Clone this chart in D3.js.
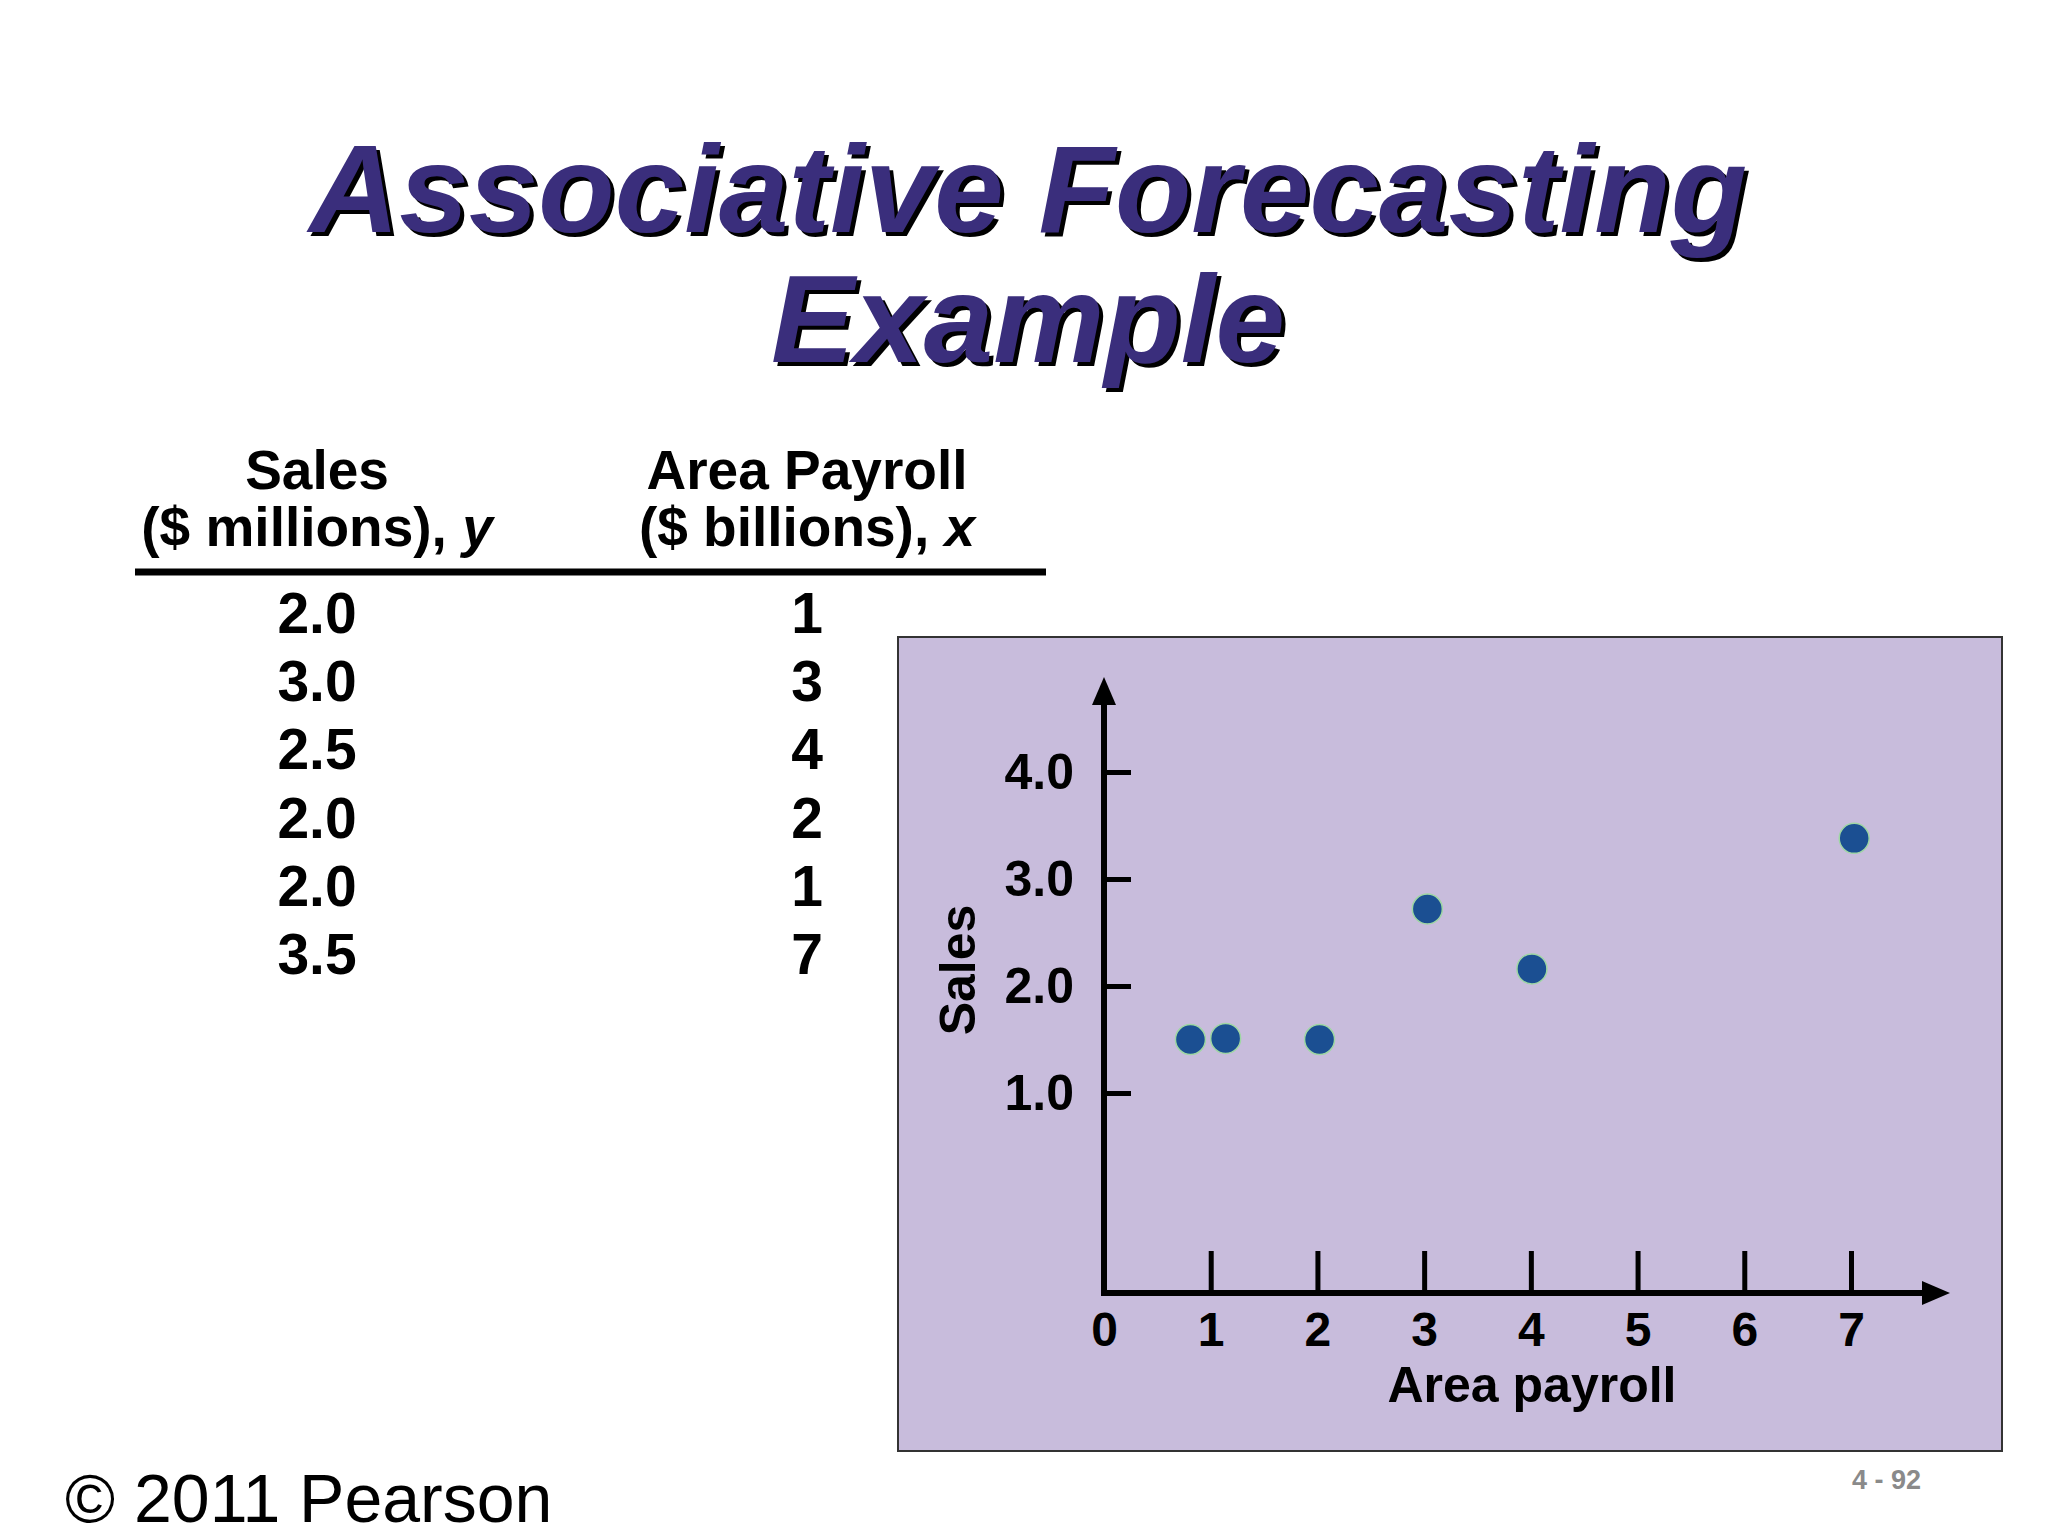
<!DOCTYPE html>
<html>
<head>
<meta charset="utf-8">
<script src="https://cdn.jsdelivr.net/npm/d3@7"></script>
<style>
  body { margin: 0; background: #fff; }
  svg { display: block; font-family: "Liberation Sans", Arial, sans-serif; }
</style>
</head>
<body>
<svg id="chart" width="2048" height="1536"></svg>
<script>
// table values
const sales = ["2.0", "3.0", "2.5", "2.0", "2.0", "3.5"];
const payroll = ["1", "3", "4", "2", "1", "7"];

// plotted points as drawn on the slide (same row order as the table)
const pointX = [0.81, 3.03, 4.01, 2.02, 1.14, 7.03];
const pointY = [1.5, 2.72, 2.16, 1.5, 1.51, 3.38];

const yTicks = [1, 2, 3, 4];
const xTicks = [0, 1, 2, 3, 4, 5, 6, 7];

const svg = d3.select("#chart");

// title with drop shadow
const titleLines = ["Associative Forecasting", "Example"];
titleLines.forEach(function(t, i) {
  let yy = 232 + i * 130;
  svg.append("text")
    .attr("x", 1028 + 4).attr("y", yy + 4)
    .attr("text-anchor", "middle")
    .attr("font-size", 125).attr("font-weight", "bold").attr("font-style", "italic")
    .attr("fill", "#000")
    .text(t);
  svg.append("text")
    .attr("x", 1028).attr("y", yy)
    .attr("text-anchor", "middle")
    .attr("font-size", 125).attr("font-weight", "bold").attr("font-style", "italic")
    .attr("fill", "#3a2e7c")
    .text(t);
});

// table header
const col1 = 317, col2 = 807;
function header(x, line1, line2, v) {
  svg.append("text").attr("x", x).attr("y", 489)
    .attr("text-anchor", "middle").attr("font-size", 55).attr("font-weight", "bold")
    .text(line1);
  let t = svg.append("text").attr("x", x).attr("y", 546)
    .attr("text-anchor", "middle").attr("font-size", 55).attr("font-weight", "bold");
  t.append("tspan").text(line2);
  t.append("tspan").attr("font-style", "italic").text(v);
}
header(col1, "Sales", "($ millions), ", "y");
header(col2, "Area Payroll", "($ billions), ", "x");

svg.append("line")
  .attr("x1", 135).attr("x2", 1046)
  .attr("y1", 572).attr("y2", 572)
  .attr("stroke", "#000").attr("stroke-width", 7);

let rowY = d3.scaleLinear().domain([0, 5]).range([633, 974]);

svg.selectAll("text.sales").data(sales).enter().append("text")
  .attr("class", "sales")
  .attr("x", col1).attr("y", (d, i) => rowY(i))
  .attr("text-anchor", "middle").attr("font-size", 57).attr("font-weight", "bold")
  .text(d => d);

svg.selectAll("text.payroll").data(payroll).enter().append("text")
  .attr("class", "payroll")
  .attr("x", col2).attr("y", (d, i) => rowY(i))
  .attr("text-anchor", "middle").attr("font-size", 57).attr("font-weight", "bold")
  .text(d => d);

// scatter panel
svg.append("rect")
  .attr("x", 898).attr("y", 637)
  .attr("width", 1104).attr("height", 814)
  .attr("fill", "#c8bcdc")
  .attr("stroke", "#333").attr("stroke-width", 2);

let x = d3.scaleLinear().domain([0, 7]).range([1104, 1851]);
let y = d3.scaleLinear().domain([1, 4]).range([1093, 772]);
const axisX0 = 1104, axisY0 = 1293;

let yAxis = d3.axisLeft(y)
  .tickValues(yTicks)
  .tickSize(-27)
  .tickPadding(30)
  .tickFormat(d3.format(".1f"));

let gy = svg.append("g")
  .attr("transform", "translate(" + axisX0 + ",0)")
  .call(yAxis);
gy.select(".domain").remove();
gy.selectAll(".tick line").attr("stroke", "#000").attr("stroke-width", 5);
gy.selectAll(".tick text")
  .attr("font-size", 50).attr("font-weight", "bold")
  .attr("font-family", "Liberation Sans, Arial, sans-serif")
  .attr("fill", "#000");

let xAxis = d3.axisBottom(x)
  .tickValues(xTicks)
  .tickSize(-42)
  .tickPadding(19)
  .tickFormat(d3.format("d"));

let gx = svg.append("g")
  .attr("transform", "translate(0," + axisY0 + ")")
  .call(xAxis);
gx.select(".domain").remove();
gx.selectAll(".tick line").attr("stroke", "#000").attr("stroke-width", 5);
gx.selectAll(".tick text")
  .attr("font-size", 48).attr("font-weight", "bold")
  .attr("font-family", "Liberation Sans, Arial, sans-serif")
  .attr("fill", "#000");

// axis lines with arrows
svg.append("line")
  .attr("x1", axisX0).attr("x2", axisX0)
  .attr("y1", 700).attr("y2", axisY0 + 3)
  .attr("stroke", "#000").attr("stroke-width", 6);
svg.append("path")
  .attr("d", "M" + axisX0 + ",677 L" + (axisX0 - 12) + ",705 L" + (axisX0 + 12) + ",705 Z")
  .attr("fill", "#000");

svg.append("line")
  .attr("x1", axisX0 - 3).attr("x2", 1925)
  .attr("y1", axisY0).attr("y2", axisY0)
  .attr("stroke", "#000").attr("stroke-width", 6);
svg.append("path")
  .attr("d", "M1950," + axisY0 + " L1922," + (axisY0 - 12) + " L1922," + (axisY0 + 12) + " Z")
  .attr("fill", "#000");

// axis titles
svg.append("text")
  .attr("transform", "translate(975,970) rotate(-90)")
  .attr("text-anchor", "middle")
  .attr("font-size", 50).attr("font-weight", "bold")
  .text("Sales");

svg.append("text")
  .attr("x", 1532).attr("y", 1402)
  .attr("text-anchor", "middle")
  .attr("font-size", 50).attr("font-weight", "bold")
  .text("Area payroll");

// points
svg.selectAll("circle.pt").data(pointX).enter().append("circle")
  .attr("class", "pt")
  .attr("cx", d => x(d))
  .attr("cy", (d, i) => y(pointY[i]))
  .attr("r", 15)
  .attr("fill", "#1b4f92")
  .attr("stroke", "#9fd6a4")
  .attr("stroke-width", 1.5);

// footer
svg.append("text")
  .attr("x", 65).attr("y", 1522)
  .attr("font-size", 68)
  .text("\u00a9 2011 Pearson");

svg.append("text")
  .attr("x", 1921).attr("y", 1489)
  .attr("text-anchor", "end")
  .attr("font-size", 27).attr("font-weight", "bold")
  .attr("fill", "#8a8a8a")
  .text("4 - 92");
</script>
</body>
</html>
